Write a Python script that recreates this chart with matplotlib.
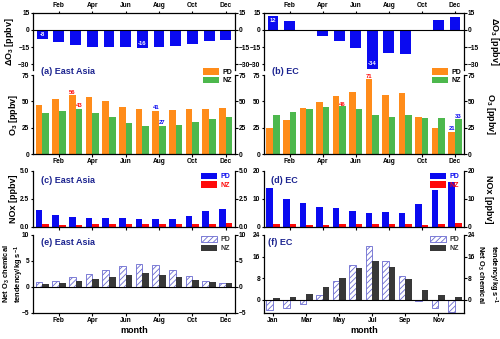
import numpy as np
import matplotlib
matplotlib.use('Agg')
import matplotlib.pyplot as plt

plt.rcParams['font.family'] = ['Liberation Sans', 'DejaVu Sans']
plt.rcParams['font.weight'] = 'bold'
plt.rcParams['mathtext.fontset'] = 'custom'
plt.rcParams['mathtext.rm'] = 'Liberation Sans:bold'
plt.rcParams['mathtext.bf'] = 'Liberation Sans:bold'
plt.rcParams['mathtext.default'] = 'rm'
plt.rcParams['hatch.linewidth'] = 0.6
plt.rcParams['axes.linewidth'] = 0.9

months = np.arange(1, 13)
even_lbl = ['Feb', 'Apr', 'Jun', 'Aug', 'Oct', 'Dec']
odd_lbl = ['Jan', 'Mar', 'May', 'Jul', 'Sep', 'Nov']

# delta O3 (NZ - PD)
dO3_ea = [-8, -10.9, -13.3, -14.7, -15.3, -15.3, -16, -14.7, -14.5, -12.7, -9.4, -8.8]
dO3_ec = [12, 8, -1, -5.3, -10, -16.2, -34, -20, -21.2, -1, 8.6, 11.2]

# O3
o3_pd_ea = [46.6, 52.2, 56, 54.4, 50.3, 45, 43.1, 41, 42.2, 43.1, 42.5, 43.4]
o3_nz_ea = [38.8, 41.3, 43, 39.4, 35, 29.4, 26.9, 27, 27.8, 30, 33.1, 35]
o3_pd_ec = [24.7, 32.2, 43.8, 49.7, 55, 59, 71, 55.6, 57.8, 35.3, 24.4, 21]
o3_nz_ec = [36.9, 40, 42.5, 44.4, 46, 42.5, 37.5, 35.3, 36.6, 33.8, 33.8, 33]

# NOx
nox_pd_ea = [1.49, 1.11, 0.92, 0.82, 0.82, 0.82, 0.73, 0.73, 0.73, 0.98, 1.39, 1.61]
nox_nz_ea = [0.25, 0.2, 0.2, 0.25, 0.25, 0.28, 0.28, 0.28, 0.25, 0.25, 0.28, 0.32]
nox_pd_ec = [13.9, 10.1, 8.5, 7.3, 6.7, 5.8, 5.1, 5.3, 4.9, 8.2, 13.2, 16.1]
nox_nz_ec = [1.14, 0.9, 0.76, 0.76, 0.9, 1.14, 1.14, 1.0, 0.9, 0.76, 1.14, 1.4]

# net O3 chemical tendency
net_pd_ea = [0.89, 1.14, 1.9, 2.53, 3.23, 3.99, 4.43, 4.18, 3.29, 2.03, 1.14, 0.76]
net_nz_ea = [0.63, 0.7, 1.14, 1.58, 1.96, 2.28, 2.6, 2.4, 1.96, 1.33, 0.95, 0.7]
net_pd_ec = [-3.7, -3.1, -1.5, 1.85, 7.0, 13.0, 20.0, 14.4, 8.9, -0.4, -3.0, -4.5]
net_nz_ec = [0.74, 1.1, 2.2, 4.7, 8.0, 11.6, 14.5, 12.2, 7.5, 3.4, 1.8, 0.86]

c_blue = '#0A0AF0'
c_red = '#FF0A0A'
c_orange = '#FF8C1A'
c_green = '#4DB84D'
c_dark = '#383838'
c_hatch = '#6A6AD0'
c_title = '#1C2490'

fig = plt.figure(figsize=(5.0, 3.39), dpi=100)

cols = [(0.066, 0.404), (0.528, 0.400)]
rows = {'d': (0.7944, 0.1673), 'o3': (0.5457, 0.2330),
        'nox': (0.3304, 0.1652), 'net': (0.0767, 0.2301)}
fs_tick = 4.8
fs_lab = 6.5
fs_ann = 4.2
w = 0.4


def make_ax(col, row):
    x0, wd = cols[col]
    y0, h = rows[row]
    ax = fig.add_axes([x0, y0, wd, h])
    ax.set_xlim(0.45, 12.55)
    ax.tick_params(axis='both', which='both', direction='out', length=1.8,
                   width=0.8, labelsize=fs_tick, pad=0.8)
    ax.tick_params(axis='y', left=True, right=True, labelleft=True, labelright=True)
    if col == 1:
        ax.yaxis.set_label_position('right')
    return ax


def ylab(ax, col, text, pad=2, fs=fs_lab):
    if col == 0:
        ax.set_ylabel(text, fontsize=fs, fontweight='bold', labelpad=pad)
    else:
        ax.set_ylabel(text, fontsize=fs, fontweight='bold', labelpad=pad + 5,
                      rotation=270, va='bottom')


def legend(ax, handles, labels, anchor, colors=None):
    lg = ax.legend(handles, labels, loc='upper right', bbox_to_anchor=anchor,
                   frameon=False, fontsize=5, handlelength=2.4,
                   handleheight=1.1, handletextpad=0.4, labelspacing=0.15,
                   borderpad=0, borderaxespad=0)
    for i, t in enumerate(lg.get_texts()):
        t.set_fontweight('bold')
        if colors is not None:
            t.set_color(colors[i])
    return lg


data = [
    dict(d=dO3_ea, pd=o3_pd_ea, nz=o3_nz_ea, npd=nox_pd_ea, nnz=nox_nz_ea,
         tpd=net_pd_ea, tnz=net_nz_ea, name='East Asia', tags='ace',
         noxlim=(0, 5), noxticks=[0, 2.5, 5], netlim=(-5, 10), netticks=[-5, 0, 5, 10]),
    dict(d=dO3_ec, pd=o3_pd_ec, nz=o3_nz_ec, npd=nox_pd_ec, nnz=nox_nz_ec,
         tpd=net_pd_ec, tnz=net_nz_ec, name='EC', tags='bdf',
         noxlim=(0, 20), noxticks=[0, 10, 20], netlim=(-5, 24), netticks=[0, 8, 16, 24]),
]

for col, dd in enumerate(data):
    # delta O3
    ax = make_ax(col, 'd')
    ax.bar(months, dd['d'], width=0.65, color=c_blue)
    ax.axhline(0, color='k', lw=0.8)
    ax.set_ylim(-35, 15)
    ax.set_yticks([-30, -15, 0, 15])
    ax.spines['bottom'].set_visible(False)
    ax.xaxis.tick_top()
    ax.set_xticks(range(2, 13, 2))
    ax.set_xticklabels(even_lbl)
    ylab(ax, col, 'ΔO$_3$ [ppbv]', pad=1.5)
    for lbl in ax.get_xticklabels() + ax.get_yticklabels():
        lbl.set_fontweight('bold')
    if col == 0:
        ax.text(1, dd['d'][0] + 4, '-8', color='white', fontsize=fs_ann,
                ha='center', va='center', fontweight='bold')
        ax.text(7, dd['d'][6] + 4, '-16', color='white', fontsize=fs_ann,
                ha='center', va='center', fontweight='bold')
    else:
        ax.text(1, dd['d'][0] - 3.8, '12', color='white', fontsize=fs_ann,
                ha='center', va='center', fontweight='bold')
        ax.text(7, dd['d'][6] + 4.5, '-34', color='white', fontsize=fs_ann,
                ha='center', va='center', fontweight='bold')

    # O3
    ax = make_ax(col, 'o3')
    b1 = ax.bar(months - w / 2, dd['pd'], width=w, color=c_orange)
    b2 = ax.bar(months + w / 2, dd['nz'], width=w, color=c_green)
    ax.set_ylim(0, 75)
    ax.set_yticks([0, 25, 50, 75])
    ax.spines['top'].set_visible(False)
    ax.set_xticks(range(2, 13, 2))
    ax.set_xticklabels(even_lbl)
    ylab(ax, col, 'O$_3$ [ppbv]', pad=1.5)
    for lbl in ax.get_xticklabels() + ax.get_yticklabels():
        lbl.set_fontweight('bold')
    legend(ax, [b1, b2], ['PD', 'NZ'], (0.985, 1.09))
    ax.text(0.04, 1.05, '(%s) %s' % (dd['tags'][0], dd['name']),
            transform=ax.transAxes, fontsize=6.5, color=c_title, fontweight='bold',
            va='center', ha='left')
    if col == 0:
        for m, v, c in [(3, dd['pd'][2], c_red), (8, dd['pd'][7], c_blue)]:
            ax.text(m - w / 2, v + 0.5, '%d' % round(v), color=c, fontsize=fs_ann,
                    ha='center', va='bottom', fontweight='bold')
        for m, v, c in [(3, dd['nz'][2], c_red), (8, dd['nz'][7], c_blue)]:
            ax.text(m + w / 2, v + 0.5, '%d' % round(v), color=c, fontsize=fs_ann,
                    ha='center', va='bottom', fontweight='bold')
    else:
        ax.text(7 - w / 2, dd['pd'][6] + 0.5, '71', color=c_red, fontsize=fs_ann,
                ha='center', va='bottom', fontweight='bold', clip_on=False)
        ax.text(5 + w / 2, dd['nz'][4] - 1, '46', color=c_red, fontsize=fs_ann,
                ha='center', va='bottom', fontweight='bold')
        ax.text(12 - w / 2, dd['pd'][11] + 0.5, '21', color=c_blue, fontsize=fs_ann,
                ha='center', va='bottom', fontweight='bold')
        ax.text(12 + w / 2, dd['nz'][11] + 0.5, '33', color=c_blue, fontsize=fs_ann,
                ha='center', va='bottom', fontweight='bold')

    # NOx
    ax = make_ax(col, 'nox')
    b1 = ax.bar(months - w / 2, dd['npd'], width=w, color=c_blue)
    b2 = ax.bar(months + w / 2, dd['nnz'], width=w, color=c_red)
    ax.set_ylim(*dd['noxlim'])
    ax.set_yticks(dd['noxticks'])
    if col == 0:
        ax.set_yticklabels(['0.0', '2.5', '5.0'])
    ax.spines['top'].set_visible(False)
    ax.set_xticks(range(2, 13, 2))
    ax.tick_params(axis='x', labelbottom=False)
    ylab(ax, col, 'NOx [ppbv]', pad=1.5)
    for lbl in ax.get_yticklabels():
        lbl.set_fontweight('bold')
    legend(ax, [b1, b2], ['PD', 'NZ'], (0.975, 0.97), colors=[c_blue, c_red])
    ax.text(0.04 if col == 0 else 0.035, 0.83, '(%s) %s' % (dd['tags'][1], dd['name']),
            transform=ax.transAxes, fontsize=6.5, color=c_title, fontweight='bold',
            va='center', ha='left')

    # net chemical tendency
    ax = make_ax(col, 'net')
    b1 = ax.bar(months - w / 2, dd['tpd'], width=w, facecolor='white',
                edgecolor=c_hatch, hatch='//////', lw=0.6)
    b2 = ax.bar(months + w / 2, dd['tnz'], width=w, color=c_dark)
    ax.axhline(0, color='k', lw=0.8)
    ax.set_ylim(*dd['netlim'])
    ax.set_yticks(dd['netticks'])
    ax.spines['top'].set_visible(False)
    if col == 0:
        ax.set_xticks(range(2, 13, 2))
        ax.set_xticklabels(even_lbl)
    else:
        ax.set_xticks(range(1, 12, 2))
        ax.set_xticklabels(odd_lbl)
    ax.set_xlabel('month', fontsize=fs_lab, fontweight='bold', labelpad=2)
    if col == 0:
        ax.set_ylabel('Net O$_3$ chemical\ntendency/kg s$^{-1}$', fontsize=5.4,
                      fontweight='bold', linespacing=1.1, ha='center', va='center')
        ax.yaxis.set_label_coords(-0.095, 0.5)
    else:
        ax.set_ylabel('tendency/kg s$^{-1}$\nNet O$_3$ chemical', fontsize=5.4,
                      fontweight='bold', rotation=270, linespacing=1.1,
                      ha='center', va='center')
        ax.yaxis.set_label_coords(1.115, 0.5)
    for lbl in ax.get_xticklabels() + ax.get_yticklabels():
        lbl.set_fontweight('bold')
    legend(ax, [b1, b2], ['PD', 'NZ'], (0.975, 0.99), colors=['#333333', '#333333'])
    ax.text(0.04 if col == 0 else 0.02, 0.9, '(%s) %s' % (dd['tags'][2], dd['name']),
            transform=ax.transAxes, fontsize=6.5, color=c_title, fontweight='bold',
            va='center', ha='left')

fig.savefig('out.png', dpi=100)
